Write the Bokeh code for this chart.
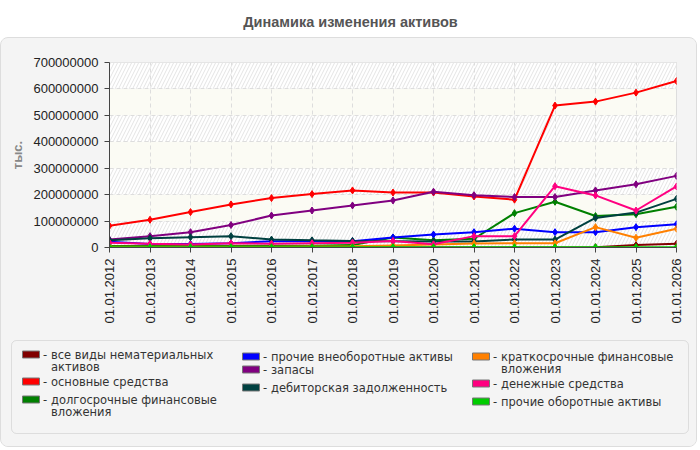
import math

from bokeh.plotting import figure
from bokeh.layouts import column
from bokeh.models import Range1d, FixedTicker, BasicTickFormatter, BoxAnnotation
from bokeh.core.properties import value
from bokeh.embed import file_html
from bokeh.resources import INLINE


# ── Data ─────────────────────────────────────────────────────────
TITLE = "Динамика изменения активов"
Y_LABEL = "тыс."

years = [2012, 2013, 2014, 2015, 2016, 2017, 2018, 2019,
         2020, 2021, 2022, 2023, 2024, 2025, 2026]
year_labels = ["01.01.%d" % y for y in years]
y_ticks = [0, 100000000, 200000000, 300000000, 400000000,
           500000000, 600000000, 700000000]

intangible = [0, 0, 0, 0, 0, 0, 0, 0, 0, 0, 0, 0, 1000000, 9000000, 14000000]
fixed_assets = [82000000, 105000000, 134000000, 163000000, 187000000,
                202000000, 216000000, 208000000, 208000000, 193000000,
                181000000, 537000000, 552000000, 586000000, 630000000]
long_fin = [6000000, 6000000, 6000000, 6000000, 7000000, 7000000, 9000000,
            38000000, 27000000, 33000000, 130000000, 173000000, 119000000,
            126000000, 154000000]
other_noncurrent = [22000000, 13000000, 13000000, 16000000, 24000000,
                    24000000, 24000000, 38000000, 49000000, 58000000,
                    71000000, 58000000, 58000000, 77000000, 88000000]
inventories = [30000000, 43000000, 58000000, 85000000, 121000000,
               140000000, 159000000, 178000000, 211000000, 198000000,
               191000000, 191000000, 216000000, 239000000, 271000000]
receivables = [27000000, 35000000, 39000000, 43000000, 30000000,
               27000000, 25000000, 24000000, 23000000, 23000000,
               30000000, 30000000, 112000000, 132000000, 184000000]
short_fin = [3000000, 3000000, 3000000, 3000000, 3000000, 4000000, 5000000,
             8000000, 11000000, 15000000, 16000000, 16000000, 77000000,
             37000000, 71000000]
cash = [18000000, 14000000, 11000000, 16000000, 14000000, 16000000,
        18000000, 25000000, 12000000, 43000000, 43000000, 232000000,
        197000000, 140000000, 231000000]
other_current = [1000000, 1000000, 1000000, 1000000, 1000000, 1000000,
                 1000000, 1000000, 1000000, 1000000, 1000000, 1000000,
                 1000000, 1000000, 1000000]

series = [intangible, fixed_assets, long_fin, other_noncurrent, inventories,
          receivables, short_fin, cash, other_current]
names = ["все виды нематериальных\nактивов",
         "основные средства",
         "долгосрочные финансовые\nвложения",
         "прочие внеоборотные активы",
         "запасы",
         "дебиторская задолженность",
         "краткосрочные финансовые\nвложения",
         "денежные средства",
         "прочие оборотные активы"]
colors = ["#800000", "#ff0000", "#008000", "#0000ff", "#800080",
          "#004040", "#ff8000", "#ff0080", "#00cc00"]

PANEL = "#f4f4f4"
TICK_FONT = "Liberation Sans"
LEGEND_FONT = "DejaVu Sans"
W = 695


# ── Title strip ──────────────────────────────────────────────────
head = figure(width=698, height=37, x_range=Range1d(0, 698), y_range=Range1d(37, 0),
              toolbar_location=None, output_backend="svg", min_border=0,
              x_axis_location=None, y_axis_location=None)
head.background_fill_color = "white"
head.border_fill_color = "white"
head.outline_line_color = None
head.grid.visible = False
head.text(x=[350], y=[21], text=[TITLE], text_align="center", text_baseline="middle",
          text_font=value(TICK_FONT), text_font_style="bold",
          text_font_size="14.5px", text_color="#555555")


# ── Main chart ───────────────────────────────────────────────────
p = figure(width=W, height=297,
           x_range=Range1d(years[0], years[-1]), y_range=Range1d(y_ticks[0], y_ticks[-1]),
           toolbar_location=None, output_backend="svg",
           min_border_left=108, min_border_right=20,
           min_border_top=24, min_border_bottom=88)
p.background_fill_color = "#fbfbf4"
p.border_fill_color = PANEL
p.outline_line_color = "#dddddd"

# alternating hatched bands between the y ticks
p.quad(left=years[0], right=years[-1], bottom=y_ticks[0:-1:2], top=y_ticks[1::2],
       fill_color="white", line_color=None, hatch_pattern="/",
       hatch_color="#e4e4e4", hatch_scale=7, hatch_weight=1, level="underlay")

for vals, col in zip(series, colors):
    p.line(years, vals, line_color=col, line_width=2)
    p.scatter(years, vals, marker="diamond", size=7, fill_color=col, line_color=col)

p.xaxis.ticker = FixedTicker(ticks=years)
p.xaxis.major_label_overrides = {y: lbl for y, lbl in zip(years, year_labels)}
p.xaxis.major_label_orientation = math.pi / 2
p.yaxis.ticker = FixedTicker(ticks=y_ticks)
p.yaxis.formatter = BasicTickFormatter(use_scientific=False)
p.yaxis.axis_label = Y_LABEL

for ax in (p.xaxis, p.yaxis):
    ax.axis_line_color = "#444444"
    ax.major_tick_line_color = "#444444"
    ax.major_tick_out = 5
    ax.major_tick_in = 0
    ax.minor_tick_line_color = None
    ax.major_label_standoff = 6
    ax.major_label_text_font = TICK_FONT
    ax.major_label_text_font_size = "13px"
    ax.major_label_text_color = "#222222"
p.yaxis.axis_label_text_font = TICK_FONT
p.yaxis.axis_label_text_font_style = "bold"
p.yaxis.axis_label_text_font_size = "13px"
p.yaxis.axis_label_text_color = "#888888"
p.yaxis.axis_label_standoff = 5

p.grid.grid_line_color = "#dddddd"
p.grid.grid_line_dash = "4 3"


# ── Legend ───────────────────────────────────────────────────────
lg = figure(width=W, height=111, x_range=Range1d(0, W), y_range=Range1d(111, 0),
            toolbar_location=None, output_backend="svg", min_border=0,
            x_axis_location=None, y_axis_location=None)
lg.background_fill_color = PANEL
lg.border_fill_color = PANEL
lg.outline_line_color = None
lg.grid.visible = False
lg.add_layout(BoxAnnotation(left=10, right=687, top=5, bottom=98, fill_alpha=0,
                            line_color="#aaaaaa", line_width=1, border_radius=5))

col_x = [29.5, 249.5, 479.5]
row_y = [[19, 46, 64], [21, 34, 52], [21, 48, 66]]
sw_x, sw_y, txt_x, txt_y, txt = [], [], [], [], []
dash_x, dash_y = [], []
for i, name in enumerate(names):
    c, r = divmod(i, 3)
    sw_x.append(col_x[c])
    sw_y.append(row_y[c][r])
    dash_x.append(col_x[c] + 12)
    dash_y.append(row_y[c][r])
    for k, line in enumerate(name.split("\n")):
        txt_x.append(col_x[c] + 20)
        txt_y.append(row_y[c][r] + 12 * k)
        txt.append(line)

lg.rect(x=sw_x, y=sw_y, width=17, height=7, fill_color=colors, line_color="#777777")
lg.text(x=dash_x, y=dash_y, text=["-"] * len(dash_x), text_baseline="middle",
        text_font=value(LEGEND_FONT), text_font_size="11.5px", text_color="#333333")
lg.text(x=txt_x, y=txt_y, text=txt, text_baseline="middle",
        text_font=value(LEGEND_FONT), text_font_size="11.5px", text_color="#333333")

panel = column(column(p), column(lg),
               styles={"background-color": PANEL, "border": "1px solid #dddddd",
                       "border-radius": "8px", "overflow": "hidden"})
root = column(head, panel)

open("out.html", "w").write(file_html(root, INLINE))
